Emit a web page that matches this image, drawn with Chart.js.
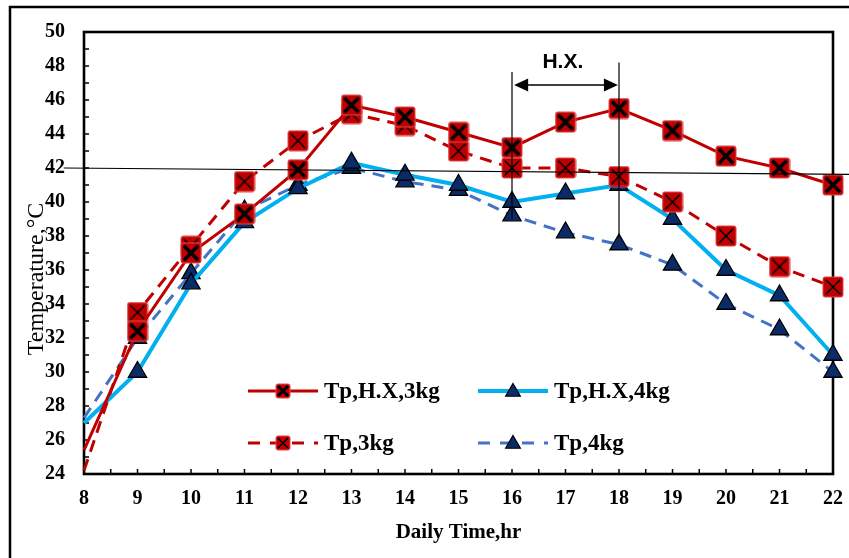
<!DOCTYPE html>
<html>
<head>
<meta charset="utf-8">
<script src="https://cdn.jsdelivr.net/npm/chart.js@4.4.1/dist/chart.umd.min.js"></script>
<style>
  html, body { margin: 0; padding: 0; background: #fff; }
  #wrap { width: 849px; height: 558px; position: relative; }
</style>
</head>
<body>
<div id="wrap"><canvas id="tempChart" width="849" height="558"></canvas></div>
<script>
// daily time (hr)
const hours = [8, 9, 10, 11, 12, 13, 14, 15, 16, 17, 18, 19, 20, 21, 22];
// temperatures (°C)
const tpHX3kg = [25.4, 32.4, 37.0, 39.3, 41.9, 45.7, 45.0, 44.1, 43.2, 44.7, 45.5, 44.2, 42.7, 42.0, 41.0];
const tpHX4kg = [27.0, 30.0, 35.2, 38.8, 40.8, 42.3, 41.6, 41.0, 40.0, 40.5, 41.0, 39.0, 36.0, 34.5, 31.0];
const tp3kg   = [24.2, 33.5, 37.4, 41.2, 43.6, 45.2, 44.5, 43.0, 42.0, 42.0, 41.5, 40.0, 38.0, 36.2, 35.0];
const tp4kg   = [27.3, 32.0, 35.8, 39.5, 41.0, 42.0, 41.2, 40.7, 39.2, 38.2, 37.5, 36.3, 34.0, 32.5, 30.0];
const seriesNames = ["Tp,H.X,3kg", "Tp,H.X,4kg", "Tp,3kg", "Tp,4kg"];

const RED = "#C00000";
const CYAN = "#00B0F0";
const BLUE = "#4472C4";
const NAVY = "#0B2B66";
const SERIF = '"Liberation Serif", "Times New Roman", serif';

// red square with a black cross, used as point style
function squareMarker(size, crossWidth) {
  const c = document.createElement("canvas");
  c.width = size + 2;
  c.height = size + 2;
  const g = c.getContext("2d");
  g.fillStyle = RED;
  g.strokeStyle = "#E0484C";
  g.lineWidth = 1;
  g.beginPath();
  g.roundRect(1, 1, size, size, 2);
  g.fill();
  g.stroke();
  const p = 1 + size * 0.14, q = 1 + size * 0.86;
  g.strokeStyle = "#000";
  g.lineWidth = crossWidth;
  g.beginPath();
  g.moveTo(p, p); g.lineTo(q, q);
  g.moveTo(q, p); g.lineTo(p, q);
  g.stroke();
  return c;
}

const bigBold = squareMarker(20, 3.5);
const bigThin = squareMarker(20, 1.6);
const smallBold = squareMarker(14, 3);
const smallThin = squareMarker(14, 1.4);

const hideFirst = (r) => hours.map((h, i) => (i === 0 ? 0 : r));
const toPoints = (arr) => hours.map((h, i) => ({ x: h, y: arr[i] }));

const datasets = [
  {
    label: seriesNames[0], data: toPoints(tpHX3kg),
    borderColor: RED, borderWidth: 3, pointStyle: bigBold, pointRadius: hideFirst(10),
    legendMarker: smallBold, order: 1,
  },
  {
    label: seriesNames[1], data: toPoints(tpHX4kg),
    borderColor: CYAN, borderWidth: 4, pointStyle: "triangle", pointRadius: hideFirst(10.5),
    pointBackgroundColor: NAVY, pointBorderColor: "#000", pointBorderWidth: 1.3, order: 3,
  },
  {
    label: seriesNames[2], data: toPoints(tp3kg),
    borderColor: RED, borderWidth: 3, borderDash: [12, 8], pointStyle: bigThin, pointRadius: hideFirst(10),
    legendMarker: smallThin, order: 2,
  },
  {
    label: seriesNames[3], data: toPoints(tp4kg),
    borderColor: BLUE, borderWidth: 3, borderDash: [12, 8], pointStyle: "triangle", pointRadius: hideFirst(10.5),
    pointBackgroundColor: NAVY, pointBorderColor: "#000", pointBorderWidth: 1.3, order: 4,
  },
];

function drawTriangle(ctx, x, y, r) {
  ctx.save();
  ctx.fillStyle = NAVY;
  ctx.strokeStyle = "#000";
  ctx.lineWidth = 1.2;
  ctx.beginPath();
  ctx.moveTo(x, y - r);
  ctx.lineTo(x + r * 0.866, y + r * 0.5);
  ctx.lineTo(x - r * 0.866, y + r * 0.5);
  ctx.closePath();
  ctx.fill();
  ctx.stroke();
  ctx.restore();
}

const decorations = {
  id: "decorations",
  beforeDraw(chart) {
    const ctx = chart.ctx;
    ctx.save();
    ctx.fillStyle = "#fff";
    ctx.fillRect(0, 0, chart.width, chart.height);
    // outer frame (left and top only)
    ctx.strokeStyle = "#000";
    ctx.lineWidth = 2.5;
    ctx.beginPath();
    ctx.moveTo(10, chart.height);
    ctx.lineTo(10, 7);
    ctx.lineTo(chart.width, 7);
    ctx.stroke();
    ctx.restore();
  },
  beforeDatasetsDraw(chart) {
    const { ctx, chartArea: a, scales: { x, y } } = chart;
    ctx.save();
    ctx.strokeStyle = "#000";
    ctx.lineWidth = 1.5;
    ctx.beginPath();
    for (let v = x.min; v <= x.max + 0.01; v += 0.5) {
      const px = x.getPixelForValue(v);
      ctx.moveTo(px, a.bottom);
      ctx.lineTo(px, a.bottom - 5);
    }
    for (let v = y.min; v <= y.max + 0.01; v += 1) {
      const py = y.getPixelForValue(v);
      ctx.moveTo(a.left, py);
      ctx.lineTo(a.left + 5, py);
    }
    ctx.stroke();
    ctx.lineWidth = 2.6;
    ctx.strokeRect(a.left, a.top, a.right - a.left, a.bottom - a.top);
    ctx.restore();
  },
  afterDatasetsDraw(chart) {
    const { ctx, scales: { x, y } } = chart;
    ctx.save();
    ctx.strokeStyle = "#000";
    ctx.fillStyle = "#000";
    // reference line at 42 °C
    ctx.lineWidth = 1.2;
    ctx.beginPath();
    ctx.moveTo(x.getPixelForValue(7.62), y.getPixelForValue(42));
    ctx.lineTo(chart.width, y.getPixelForValue(41.62));
    ctx.stroke();
    // heat exchanger period markers
    ctx.beginPath();
    ctx.moveTo(x.getPixelForValue(16), y.getPixelForValue(47.65));
    ctx.lineTo(x.getPixelForValue(16), y.getPixelForValue(39.0));
    ctx.moveTo(x.getPixelForValue(18), y.getPixelForValue(48.2));
    ctx.lineTo(x.getPixelForValue(18), y.getPixelForValue(37.9));
    ctx.stroke();
    const ay = y.getPixelForValue(46.88);
    const ax1 = x.getPixelForValue(16.04), ax2 = x.getPixelForValue(17.98);
    ctx.lineWidth = 1.5;
    ctx.beginPath();
    ctx.moveTo(ax1 + 10, ay);
    ctx.lineTo(ax2 - 10, ay);
    ctx.stroke();
    ctx.beginPath();
    ctx.moveTo(ax1, ay); ctx.lineTo(ax1 + 14, ay - 6.5); ctx.lineTo(ax1 + 14, ay + 6.5); ctx.closePath();
    ctx.moveTo(ax2, ay); ctx.lineTo(ax2 - 14, ay - 6.5); ctx.lineTo(ax2 - 14, ay + 6.5); ctx.closePath();
    ctx.fill();
    ctx.font = 'bold 21px "Liberation Sans", Arial, sans-serif';
    ctx.textAlign = "center";
    ctx.textBaseline = "middle";
    ctx.fillText("H.X.", x.getPixelForValue(16.95), y.getPixelForValue(48.2));

    // legend, 2 x 2 inside the plot
    const cells = [
      { ds: 0, lx: 248, ty: 391 },
      { ds: 1, lx: 478, ty: 391 },
      { ds: 2, lx: 248, ty: 443 },
      { ds: 3, lx: 478, ty: 443 },
    ];
    ctx.font = "bold 23px " + SERIF;
    ctx.textAlign = "left";
    cells.forEach((c) => {
      const ds = datasets[c.ds];
      ctx.save();
      ctx.strokeStyle = ds.borderColor;
      ctx.lineWidth = ds.borderWidth;
      ctx.setLineDash(ds.borderDash ? [12, 10] : []);
      ctx.beginPath();
      ctx.moveTo(c.lx, c.ty);
      ctx.lineTo(c.lx + 70, c.ty);
      ctx.stroke();
      ctx.restore();
      const mx = c.lx + 35;
      if (ds.legendMarker) {
        const m = ds.legendMarker;
        ctx.drawImage(m, mx - m.width / 2, c.ty - m.height / 2);
      } else {
        drawTriangle(ctx, mx, c.ty + 1, 8.5);
      }
      ctx.fillStyle = "#000";
      ctx.fillText(ds.label, c.lx + 76, c.ty + 1);
    });

    // axis titles
    ctx.font = "bold 21px " + SERIF;
    ctx.textAlign = "center";
    ctx.fillText("Daily Time,hr", (chart.chartArea.left + chart.chartArea.right) / 2, 533);
    ctx.save();
    ctx.translate(37, 279);
    ctx.rotate(-Math.PI / 2);
    ctx.font = "24px " + SERIF;
    ctx.fillText("Temperature,°C", 0, 0);
    ctx.restore();
    ctx.restore();
  },
};

new Chart(document.getElementById("tempChart").getContext("2d"), {
  type: "line",
  data: { datasets: datasets },
  plugins: [decorations],
  options: {
    responsive: false,
    animation: false,
    events: [],
    clip: false,
    layout: { padding: { top: 32, right: 16, left: 0, bottom: 0 } },
    plugins: { legend: { display: false }, tooltip: { enabled: false } },
    elements: { line: { tension: 0, fill: false } },
    scales: {
      x: {
        type: "linear",
        min: 8,
        max: 22,
        afterFit: (s) => { s.height = 84; s.paddingLeft = 0; s.paddingRight = 0; },
        grid: { display: false, drawTicks: false },
        border: { display: false },
        ticks: {
          stepSize: 1,
          autoSkip: false,
          maxRotation: 0,
          padding: 13,
          color: "#000",
          font: { family: SERIF, size: 20, weight: "bold" },
        },
      },
      y: {
        min: 24,
        max: 50,
        afterFit: (s) => { s.width = 84; s.paddingTop = 0; s.paddingBottom = 0; },
        grid: { display: false, drawTicks: false },
        border: { display: false },
        ticks: {
          stepSize: 2,
          padding: 19,
          color: "#000",
          font: { family: SERIF, size: 20, weight: "bold" },
        },
      },
    },
  },
});
</script>
</body>
</html>
